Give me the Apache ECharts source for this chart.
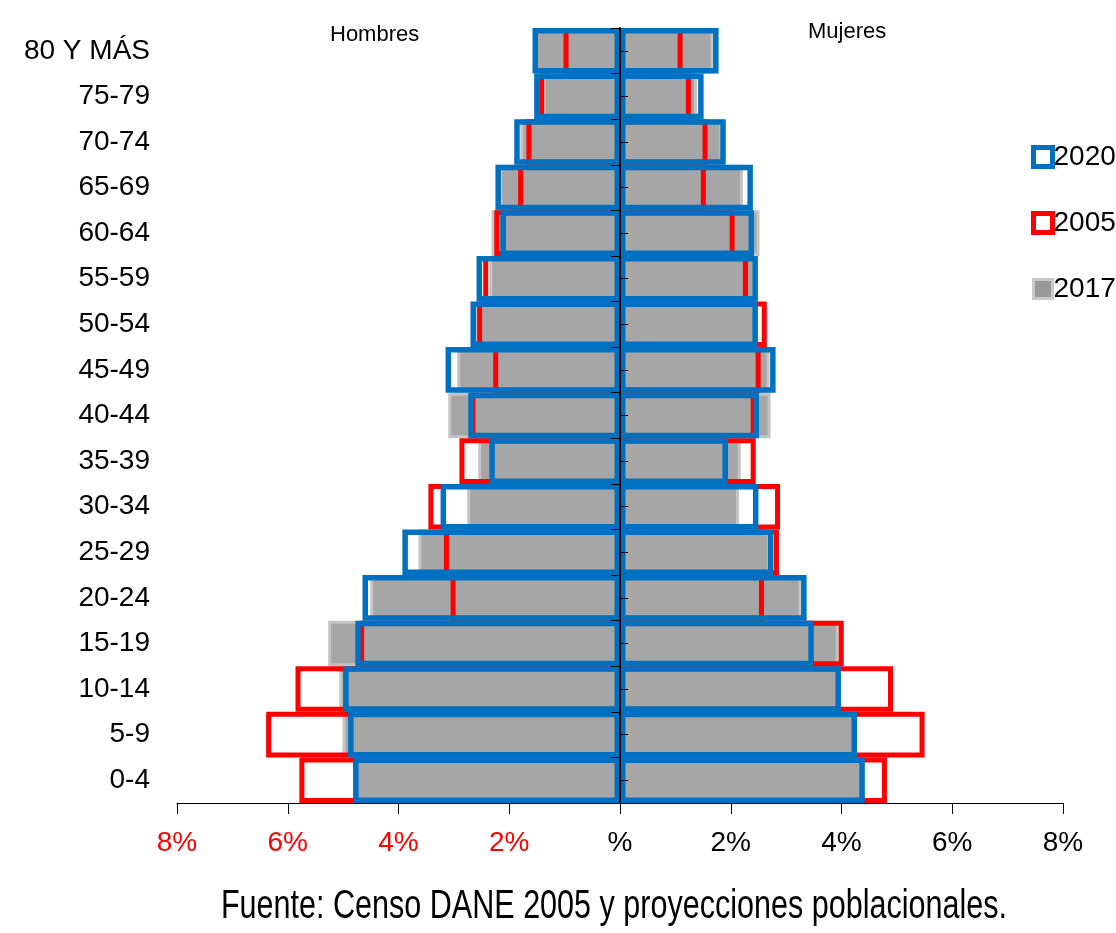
<!DOCTYPE html>
<html>
<head>
<meta charset="utf-8">
<script src="https://cdn.jsdelivr.net/npm/echarts@6/dist/echarts.min.js"></script>
<style>
html,body{margin:0;padding:0;background:#fff;}
#chart{width:1116px;height:933px;}
</style>
</head>
<body>
<div id="chart"></div>
<script>
// Age groups, bottom to top
var ages = ['0-4','5-9','10-14','15-19','20-24','25-29','30-34','35-39','40-44','45-49','50-54','55-59','60-64','65-69','70-74','75-79','80 Y MÁS'];
// Percent of population (Hombres / Mujeres)
var hombres2020 = [4.82,4.91,5.00,4.78,4.65,3.93,3.24,2.36,2.74,3.15,2.70,2.59,2.16,2.25,1.91,1.55,1.58];
var mujeres2020 = [4.42,4.28,3.99,3.50,3.37,2.77,2.50,1.95,2.51,2.81,2.49,2.49,2.42,2.40,1.91,1.51,1.78];
var hombres2005 = [5.79,6.39,5.86,4.71,3.06,3.18,3.46,2.90,2.70,2.29,2.58,2.47,2.27,1.84,1.69,1.46,1.02];
var mujeres2005 = [4.82,5.50,4.93,4.04,2.60,2.87,2.89,2.45,2.45,2.54,2.65,2.31,2.07,1.55,1.58,1.28,1.13];
var hombres2017 = [4.82,5.01,5.07,5.27,4.51,3.64,2.76,2.56,3.10,2.94,2.63,2.36,2.32,2.18,1.80,1.40,1.55];
var mujeres2017 = [4.42,4.24,3.95,3.95,3.28,2.71,2.15,2.18,2.72,2.70,2.45,2.44,2.52,2.22,1.85,1.39,1.69];
var xTicks = [-8,-6,-4,-2,0,2,4,6,8];
var fuente = 'Fuente: Censo DANE 2005 y proyecciones poblacionales.';

var BLUE = '#0070C0', RED = '#FF0000', GRAY = '#A6A6A6', GRAYB = '#C4C4C4';
var neg = function(a){ return a.map(function(v){ return -v; }); };

function barSeries(name, stack, data, style){
  return {
    name: name, type: 'bar', stack: stack, data: data,
    barGap: '-100%', barCategoryGap: '0%',
    itemStyle: style, emphasis: {disabled: true}, silent: true
  };
}
var s2017 = {color: GRAY, borderColor: GRAYB, borderWidth: 3};
var s2005 = {color: 'rgba(0,0,0,0)', borderColor: RED, borderWidth: 5};
var s2020 = {color: 'rgba(0,0,0,0)', borderColor: BLUE, borderWidth: 5.5};

var chart = echarts.init(document.getElementById('chart'), null, {renderer: 'canvas'});
chart.setOption({
  animation: false,
  backgroundColor: '#fff',
  textStyle: {fontFamily: 'Liberation Sans, Arial, sans-serif'},
  title: [
    {text: 'Hombres', left: 325, top: 19, textStyle: {fontSize: 22, fontWeight: 'normal', color: '#000', fontFamily: 'Liberation Sans'}},
    {text: 'Mujeres', left: 803, top: 16, textStyle: {fontSize: 22, fontWeight: 'normal', color: '#000', fontFamily: 'Liberation Sans'}}
  ],
  graphic: [
    {type: 'text', x: 614, y: 907, scaleX: 0.745, silent: true,
     style: {text: fuente, fill: '#000', font: '41px "Liberation Sans", Arial, sans-serif',
             textAlign: 'center', textVerticalAlign: 'middle'}}
  ],
  legend: {
    orient: 'vertical', left: 1026, top: 138, itemWidth: 19, itemHeight: 19, itemGap: 38,
    textStyle: {fontSize: 28, color: '#000', fontFamily: 'Liberation Sans', padding: [0,0,0,-4]},
    data: [
      {name: '2020', icon: 'rect', itemStyle: {color: '#fff', borderColor: BLUE, borderWidth: 5}},
      {name: '2005', icon: 'rect', itemStyle: {color: '#fff', borderColor: RED, borderWidth: 5}},
      {name: '2017', icon: 'rect', itemStyle: {color: '#999', borderColor: '#C8C8C8', borderWidth: 3}}
    ],
    selectedMode: false
  },
  grid: {left: 177, right: 53, top: 28, bottom: 130, containLabel: false},
  xAxis: {
    type: 'value', min: -8, max: 8, interval: 2,
    axisLine: {show: true, onZero: false, lineStyle: {color: '#000', width: 1}},
    axisTick: {show: true, length: 11, lineStyle: {color: '#000'}},
    splitLine: {show: false},
    axisLabel: {
      fontSize: 28, margin: 26, fontFamily: 'Liberation Sans',
      formatter: function(v){ return v === 0 ? '%' : Math.abs(v) + '%'; },
      color: function(v){ return Number(v) < 0 ? RED : '#000'; }
    }
  },
  yAxis: [
    {
      type: 'category', data: ages, position: 'left',
      axisLine: {show: false, onZero: false}, axisTick: {show: false},
      axisLabel: {fontSize: 28, color: '#000', margin: 27, fontFamily: 'Liberation Sans'}
    },
    {
      type: 'category', data: ages, position: 'left', z: 10,
      axisLine: {show: true, onZero: true, lineStyle: {color: '#000', width: 2}},
      axisTick: {show: true, length: 9, lineStyle: {color: '#000'}},
      axisLabel: {show: false}
    },
    {
      type: 'category', data: ages, position: 'right', offset: -442, z: 10,
      axisLine: {show: false, onZero: false},
      axisTick: {show: true, alignWithLabel: true, length: 7, lineStyle: {color: '#000'}},
      axisLabel: {show: false}
    }
  ],
  series: [
    barSeries('2017', 's2017', neg(hombres2017), s2017),
    barSeries('2017', 's2017', mujeres2017, s2017),
    barSeries('2005', 's2005', neg(hombres2005), s2005),
    barSeries('2005', 's2005', mujeres2005, s2005),
    barSeries('2020', 's2020', neg(hombres2020), s2020),
    barSeries('2020', 's2020', mujeres2020, s2020)
  ]
});
</script>
</body>
</html>
